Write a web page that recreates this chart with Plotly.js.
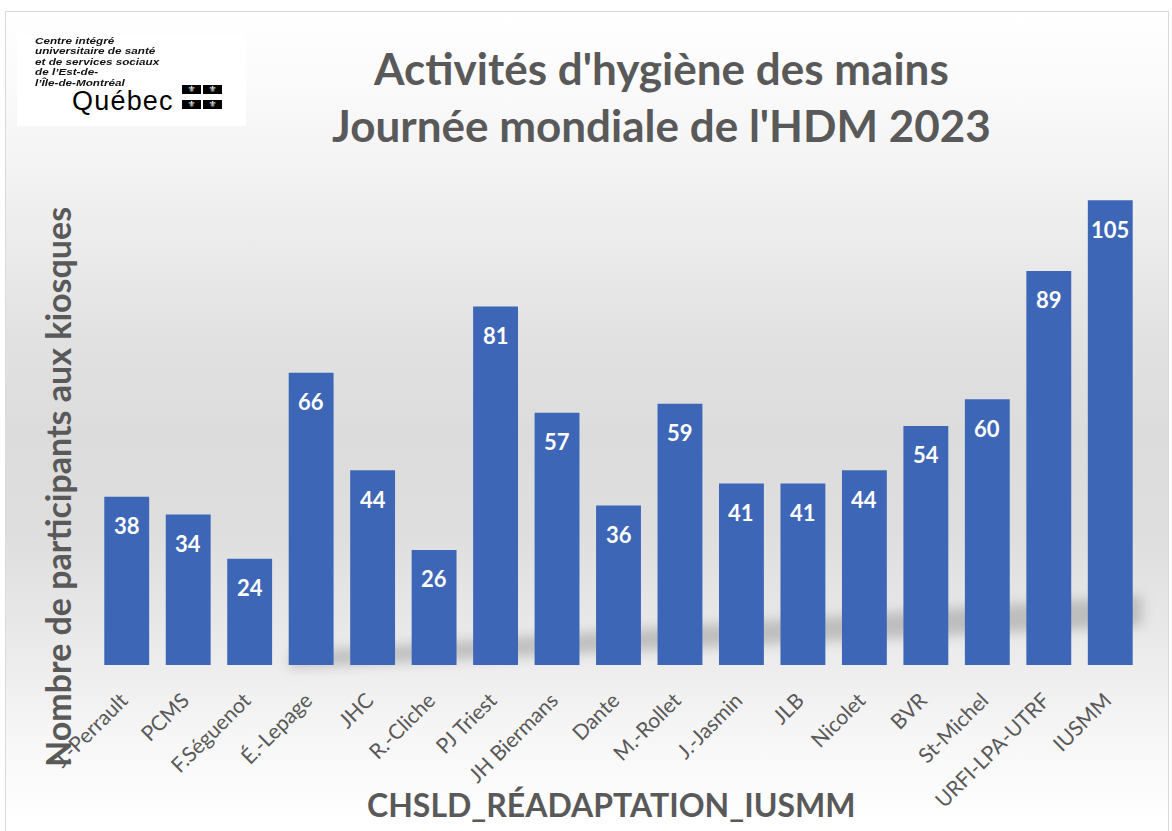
<!DOCTYPE html>
<html>
<head>
<meta charset="utf-8">
<script src="https://cdn.plot.ly/plotly-3.0.1.min.js"></script>
<style>
  html, body { margin: 0; padding: 0; background: #ffffff; }
  #wrap { position: relative; width: 1172px; height: 831px; overflow: hidden; background: #ffffff; }
  #frame { position: absolute; left: 5px; top: 11px; width: 1162px; height: 840px; border: 1px solid #d9d9d9;
    background: linear-gradient(to bottom, #ffffff 0%, #fbfbfb 8%, #f2f2f2 20%, #e2e2e2 38%, #dcdcdc 50%, #dedede 62%, #ebebeb 76%, #f6f6f6 86%, #ffffff 96%); }
  #shadowOuter { position: absolute; left: 0; top: 0; width: 1172px; height: 831px; filter: blur(6px); }
  #shadowInner { position: absolute; left: 290px; top: 580px; width: 852px; height: 88px; background: rgba(130,130,130,0.42);
    clip-path: polygon(0% 82%, 100% 18%, 100% 52%, 0% 100%); }
  #chart { position: absolute; left: 0; top: 0; width: 1172px; height: 831px; }
  #logo { position: absolute; left: 17px; top: 34px; width: 229px; height: 92px; background: #ffffff; }
  #logo .line { position: absolute; left: 18px; font-family: "Liberation Sans", Arial, sans-serif; font-weight: bold; font-style: italic;
    font-size: 9px; line-height: 10px; height: 10px; color: #111; white-space: nowrap; transform-origin: 0 0; transform: scaleX(1.3); }
  #logo .qc { position: absolute; left: 55px; top: 53px; font-family: "Liberation Sans", Arial, sans-serif; font-size: 27px; line-height: 28px; color: #000; letter-spacing: 1.2px; }
  #logo .flag { position: absolute; width: 19px; height: 9px; background: #000; color: #fff; font-size: 9px; line-height: 9px; text-align: center; font-family: "DejaVu Sans"; }
</style>
</head>
<body>
<div id="wrap">
  <div id="frame"></div>
  <div id="shadowOuter"><div id="shadowInner"></div></div>
  <div id="chart"></div>
  <div id="logo">
    <div class="line" style="top:2px;">Centre intégré</div>
    <div class="line" style="top:12.4px;">universitaire de santé</div>
    <div class="line" style="top:22.8px;">et de services sociaux</div>
    <div class="line" style="top:33.2px;">de l’Est-de-</div>
    <div class="line" style="top:43.6px;">l’Île-de-Montréal</div>
    <div class="qc">Québec</div>
    <div class="flag" style="left:165px;top:51px;">⚜</div>
    <div class="flag" style="left:186px;top:51px;">⚜</div>
    <div class="flag" style="left:165px;top:66px;">⚜</div>
    <div class="flag" style="left:186px;top:66px;">⚜</div>
  </div>
</div>
<script>
const categories = ["J.-Perrault", "PCMS", "F.Séguenot", "É.-Lepage", "JHC", "R.-Cliche", "PJ Triest", "JH Biermans", "Dante", "M.-Rollet", "J.-Jasmin", "JLB", "Nicolet", "BVR", "St-Michel", "URFI-LPA-UTRF", "IUSMM"];
const participants = [38, 34, 24, 66, 44, 26, 81, 57, 36, 59, 41, 41, 44, 54, 60, 89, 105];
const chartTitle = "Activités d'hygiène des mains<br>Journée mondiale de l'HDM 2023";
const yTitle = "Nombre de participants aux kiosques";
const xTitle = "CHSLD_RÉADAPTATION_IUSMM";

const grey = "#595959";
const font = "Lato, 'Open Sans', sans-serif";

const trace = {
  type: "bar",
  x: categories,
  y: participants,
  marker: { color: "#3d66b7", line: { width: 0 } },
  hoverinfo: "x+y"
};

const labelAnns = categories.map((c, i) => ({
  x: c, y: participants[i], xref: "x", yref: "y",
  text: String(participants[i]), showarrow: false,
  yanchor: "middle", yshift: -29,
  font: { family: font, size: 22, color: "#ffffff", weight: "bold" }
}));

const layout = {
  width: 1172, height: 831,
  paper_bgcolor: "rgba(0,0,0,0)", plot_bgcolor: "rgba(0,0,0,0)",
  margin: { l: 96, r: 31, t: 178, b: 166 },
  bargap: 0.27,
  showlegend: false,
  xaxis: {
    type: "category", tickangle: -45, showgrid: false, zeroline: false, showline: false, ticks: "",
    ticklabelstandoff: 18, ticklabelshift: -5,
    tickfont: { family: font, size: 21, color: grey }
  },
  yaxis: {
    range: [0, 110], showgrid: false, zeroline: false, showline: false, showticklabels: false, ticks: "", fixedrange: true
  },
  annotations: labelAnns.concat([
    { text: chartTitle, xref: "paper", yref: "paper", x: 0.5416, y: 1.168, xanchor: "center", yanchor: "middle",
      showarrow: false, font: { family: font, size: 44, color: grey, weight: "bold" } },
    { text: yTitle, xref: "paper", yref: "paper", x: -0.0373, y: 0.3655, xanchor: "center", yanchor: "middle",
      textangle: -90, showarrow: false, font: { family: font, size: 34, color: grey, weight: "bold" } },
    { text: xTitle, xref: "paper", yref: "paper", x: 0.4928, y: -0.287, xanchor: "center", yanchor: "middle",
      showarrow: false, font: { family: font, size: 32, color: grey, weight: "bold" } }
  ])
};

Plotly.newPlot("chart", [trace], layout, { displayModeBar: false, staticPlot: true });
</script>
</body>
</html>
